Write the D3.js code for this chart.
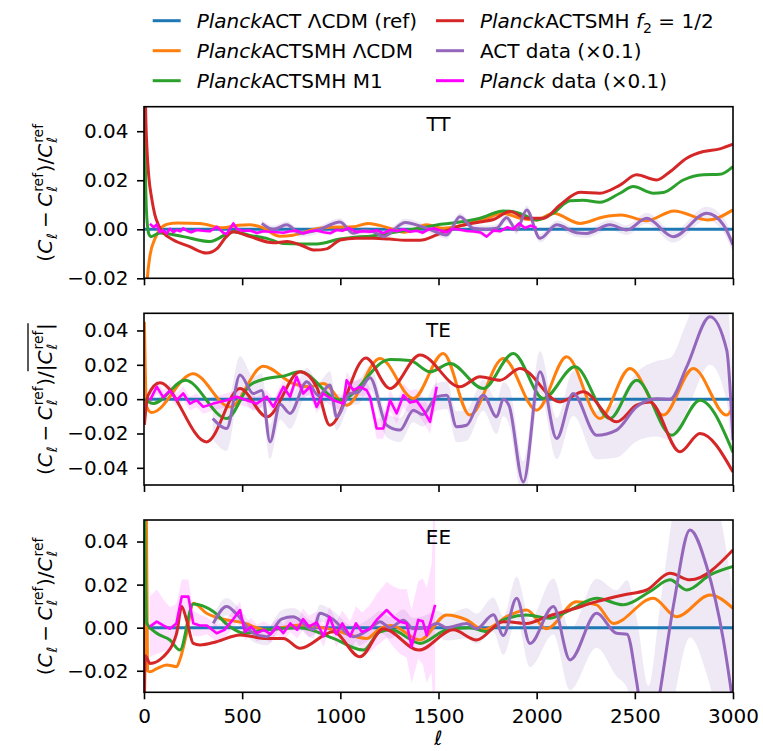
<!DOCTYPE html>
<html>
<head>
<meta charset="utf-8">
<script src="https://cdn.jsdelivr.net/npm/d3@7"></script>
<style>
  body { margin: 0; background: #fff; }
  svg { display: block; }
  text { font-family: "DejaVu Sans", sans-serif; fill: #000; white-space: pre; }
</style>
</head>
<body>
<svg id="fig" width="763" height="751"></svg>
<script>
// ---------------- data: fractional residuals vs multipole ell ----------------
const ellTicks = [0, 500, 1000, 1500, 2000, 2500, 3000];
const refLine = [[2, 0], [3000, 0]];

// TT
const ttSmhLcdm = [[2,-0.045],[15,-0.022],[31,-0.0105],[55,-0.004],[81,0.0],[120,0.0021],[170,0.0026],[285,0.0024],[400,0.0006],[480,0.0016],[540,0.0018],[600,0.0008],[690,-0.0028],[760,-0.0024],[880,0.0002],[960,0.0008],[1066,0.001],[1140,0.0024],[1200,0.0016],[1330,-0.0012],[1440,0.0018],[1524,0.0004],[1600,0.0012],[1660,0.0024],[1745,0.0045],[1830,0.0065],[1915,0.0045],[2000,0.0038],[2085,0.0065],[2221,0.0024],[2340,0.005],[2430,0.0058],[2560,0.0035],[2700,0.0075],[2870,0.0038],[3000,0.0079]];
const ttSmhM1 = [[2,0.06],[8,0.02],[15,0.004],[25,-0.002],[35,-0.003],[81,-0.0015],[200,-0.003],[336,-0.005],[455,-0.001],[540,-0.0025],[625,-0.0037],[710,-0.0058],[800,-0.006],[880,-0.006],[998,-0.004],[1100,-0.003],[1151,-0.0028],[1250,-0.0015],[1330,-0.0005],[1406,0.0004],[1491,0.0018],[1575,0.0026],[1650,0.0035],[1711,0.0045],[1830,0.0075],[1915,0.0065],[2000,0.0038],[2085,0.0066],[2170,0.0116],[2237,0.0118],[2322,0.011],[2424,0.0147],[2492,0.0174],[2594,0.0147],[2645,0.015],[2747,0.0201],[2849,0.0222],[2933,0.0224],[3000,0.0256]];
const ttSmhF2 = [[2,0.09],[8,0.05],[15,0.033],[25,0.021],[39,0.0127],[55,0.006],[75,0.0015],[100,-0.0015],[150,-0.0044],[230,-0.007],[319,-0.0097],[370,-0.008],[420,-0.003],[455,-0.001],[540,-0.003],[659,-0.0055],[730,-0.005],[800,-0.0065],[870,-0.0085],[930,-0.008],[1000,-0.0044],[1080,-0.0037],[1168,-0.0037],[1250,-0.004],[1330,-0.0045],[1406,-0.0045],[1491,-0.0023],[1592,0.001],[1711,0.003],[1780,0.004],[1864,0.0072],[1949,0.0045],[2034,0.0045],[2119,0.0099],[2221,0.0151],[2322,0.0147],[2424,0.018],[2509,0.0222],[2611,0.0201],[2679,0.0235],[2764,0.029],[2849,0.0317],[2933,0.0328],[3000,0.0347]];
// [ell, value, 1-sigma half width]
const ttAct = [[600,0.0024,0.0015],[659,0.0,0.0015],[727,0.0018,0.0015],[795,-0.0016,0.0015],[896,0.0,0.0015],[998,0.003,0.0015],[1066,-0.0016,0.0015],[1120,-0.0005,0.0015],[1168,-0.001,0.0015],[1219,-0.003,0.0015],[1330,0.0028,0.0015],[1440,0.0004,0.0015],[1542,-0.0023,0.0015],[1609,0.0051,0.0015],[1677,0.0004,0.0015],[1740,0.0,0.0015],[1796,0.0004,0.0016],[1847,0.0047,0.0017],[1898,-0.0003,0.0017],[1949,0.0079,0.0017],[2017,-0.0037,0.0017],[2102,0.0018,0.0018],[2203,-0.0014,0.0018],[2254,-0.0017,0.0018],[2373,0.0018,0.002],[2458,-0.0003,0.002],[2560,0.0045,0.0022],[2696,-0.003,0.0024],[2866,0.0065,0.0027],[2951,0.0018,0.003],[3000,-0.0064,0.003]];
const ttPlanck = [[30,0.0022,0.0008],[50,0.0008,0.0008],[65,0.002,0.0008],[80,-0.0012,0.0008],[98,-0.0004,0.0008],[115,-0.0018,0.0008],[132,0.0002,0.0008],[150,-0.0012,0.0008],[166,-0.0003,0.0008],[185,-0.0008,0.0008],[200,0.0004,0.0008],[220,-0.0006,0.0008],[240,-0.0012,0.0008],[268,-0.0003,0.0008],[302,-0.0006,0.0008],[336,-0.0008,0.0008],[370,0.001,0.0008],[404,-0.0014,0.0008],[421,-0.002,0.0008],[440,0.0005,0.0008],[455,0.0024,0.0008],[472,0.0002,0.0008],[500,-0.0006,0.0008],[540,-0.0005,0.0008],[575,-0.0015,0.0008],[608,-0.0008,0.0008],[640,-0.001,0.0008],[680,-0.0012,0.0008],[710,-0.0014,0.0008],[745,-0.0008,0.0008],[780,-0.0006,0.0008],[810,-0.0017,0.0008],[845,-0.0008,0.0008],[880,-0.0005,0.0008],[915,-0.0012,0.0008],[950,-0.0016,0.0008],[980,-0.0003,0.0008],[1010,-0.0006,0.0008],[1045,0.0005,0.0008],[1080,-0.0011,0.0008],[1115,-0.0008,0.0008],[1150,-0.001,0.0008],[1185,-0.0004,0.0008],[1220,-0.0016,0.0008],[1255,-0.0002,0.0008],[1290,-0.0008,0.0008],[1320,0.0,0.0008],[1355,-0.001,0.0008],[1390,-0.0006,0.0008],[1420,-0.0014,0.0008],[1445,-0.0002,0.0008],[1475,0.0004,0.0008],[1505,-0.0004,0.0008],[1540,-0.0012,0.0008],[1575,0.0002,0.0008],[1610,-0.0002,0.0008],[1645,-0.0007,0.0008],[1680,-0.0009,0.0008],[1715,-0.0013,0.0008],[1745,-0.003,0.0008],[1780,-0.0005,0.0008],[1815,-0.0008,0.0008],[1850,0.0008,0.0008],[1880,0.0,0.0008],[1910,0.0024,0.0008],[1940,0.0005,0.0008],[1970,0.0015,0.0008],[2000,0.0005,0.0008]];

// TE
const teSmhLcdm = [[2,0.045],[6,0.02],[12,-0.004],[39,-0.0078],[250,0.0148],[438,-0.0045],[608,0.0192],[760,0.0091],[845,0.0072],[913,0.0091],[1032,-0.0035],[1202,0.0237],[1372,0.0004],[1524,0.0266],[1660,-0.0093],[1830,0.0237],[2000,-0.0064],[2153,0.0247],[2322,-0.0113],[2475,0.0179],[2645,-0.0093],[2798,0.0179],[2968,-0.0093],[3000,-0.0045]];
const teSmhM1 = [[2,0.0],[48,-0.0025],[210,0.011],[421,-0.0113],[540,0.0082],[625,0.012],[710,0.0134],[795,0.0159],[998,-0.0006],[1253,0.0231],[1355,0.0225],[1457,0.0159],[1559,0.0208],[1728,0.0062],[1881,0.0266],[2034,0.0004],[2195,0.0188],[2373,-0.0113],[2509,0.011],[2688,-0.021],[2832,-0.0006],[3000,-0.031]];
const teSmhF2 = [[2,-0.015],[20,0.002],[81,0.0095],[319,-0.0249],[489,0.0062],[625,-0.0103],[795,0.0159],[879,0.0072],[947,-0.0152],[1130,0.024],[1253,0.0062],[1406,0.0257],[1609,0.0072],[1711,0.013],[1813,0.011],[1915,0.0179],[2119,-0.0016],[2237,0.0043],[2407,-0.0132],[2509,-0.0035],[2577,-0.0016],[2730,-0.0307],[2832,-0.02],[3000,-0.0424]];
const teAct = [[350,-0.0113,0.012],[421,-0.0171,0.013],[489,0.014,0.011],[557,0.0033,0.01],[600,0.005,0.01],[642,-0.0249,0.01],[693,-0.003,0.009],[744,-0.0083,0.009],[829,0.0101,0.008],[890,0.002,0.008],[947,0.0082,0.008],[981,-0.0103,0.008],[1049,0.0033,0.007],[1090,0.004,0.007],[1151,0.0125,0.007],[1236,-0.0152,0.007],[1304,-0.018,0.007],[1372,-0.0064,0.007],[1420,-0.009,0.007],[1491,0.0014,0.008],[1542,0.0023,0.008],[1592,-0.0161,0.009],[1643,-0.0152,0.009],[1728,0.0023,0.009],[1796,-0.0103,0.01],[1830,0.0,0.01],[1860,-0.004,0.011],[1932,-0.0482,0.012],[2017,0.0159,0.012],[2102,-0.0229,0.012],[2186,0.0033,0.013],[2305,-0.021,0.014],[2407,-0.018,0.016],[2509,-0.0045,0.02],[2611,0.0002,0.022],[2680,0.0,0.024],[2764,0.0188,0.026],[2883,0.048,0.028],[2968,0.0286,0.03],[3000,-0.0239,0.03]];
const tePlanck = [[31,-0.0006,0.004],[65,0.0072,0.004],[98,0.001,0.004],[132,0.005,0.004],[166,-0.0006,0.004],[200,0.0033,0.004],[234,-0.0026,0.004],[268,-0.0006,0.004],[302,-0.0045,0.004],[353,-0.0026,0.004],[421,-0.0006,0.004],[472,0.0014,0.004],[523,-0.0006,0.004],[574,-0.0026,0.004],[625,0.0014,0.004],[659,-0.0045,0.004],[710,0.0072,0.004],[744,0.0014,0.004],[777,0.013,0.004],[811,0.0033,0.004],[845,0.0072,0.004],[879,-0.0045,0.004],[913,0.0033,0.004],[964,-0.0006,0.004],[1015,-0.0026,0.005],[1032,0.011,0.005],[1066,0.0052,0.005],[1100,0.0072,0.005],[1134,0.0052,0.005],[1151,0.0014,0.005],[1185,-0.0171,0.006],[1219,-0.0171,0.006],[1253,-0.0006,0.006],[1287,-0.0083,0.006],[1321,0.0023,0.007],[1355,-0.002,0.007],[1389,-0.001,0.007],[1423,-0.0064,0.007],[1457,-0.0132,0.007],[1491,0.0072,0.007]];

// EE
const eeSmhLcdm = [[2,-0.06],[9,0.09],[18,-0.02],[30,-0.0205],[65,-0.019],[115,-0.0173],[166,-0.0181],[183,-0.0148],[217,-0.0026],[251,0.0113],[319,0.0067],[421,0.0036],[489,0.0026],[625,-0.001],[795,0.0013],[964,-0.001],[1134,-0.005],[1200,-0.0005],[1260,0.001],[1406,-0.0057],[1542,0.0059],[1643,0.0036],[1728,-0.001],[1864,0.0059],[1949,0.0082],[2050,-0.0005],[2203,0.012],[2305,0.0106],[2390,0.002],[2594,0.0137],[2713,0.0051],[2883,0.0152],[3000,0.009]];
const eeSmhM1 = [[2,0.06],[8,0.02],[14,0.002],[65,-0.0026],[132,-0.0057],[183,-0.0104],[251,0.011],[353,0.0075],[430,0.001],[510,-0.0025],[625,-0.001],[795,0.0],[964,-0.005],[1117,-0.0104],[1200,-0.002],[1260,-0.001],[1406,-0.0073],[1542,-0.001],[1660,0.0],[1745,-0.0018],[1830,0.0036],[1949,0.0059],[2068,0.0044],[2170,0.0082],[2305,0.0137],[2441,0.0106],[2577,0.0168],[2679,0.0222],[2764,0.0175],[2883,0.0245],[3000,0.0284]];
const eeSmhF2 = [[2,-0.035],[6,-0.013],[31,-0.0166],[98,-0.0135],[166,-0.0026],[192,0.0098],[217,0.0036],[251,-0.0073],[285,-0.008],[370,-0.0065],[489,-0.0034],[625,-0.005],[710,-0.005],[795,-0.0096],[964,-0.0019],[1100,-0.0135],[1220,-0.0005],[1400,-0.0104],[1575,-0.001],[1694,-0.0057],[1830,0.0028],[1949,0.002],[2051,0.0051],[2170,0.0082],[2305,0.0121],[2441,0.0152],[2560,0.0175],[2679,0.0253],[2781,0.0222],[3000,0.0361]];
const eeAct = [[353,0.002,0.004],[421,0.0098,0.004],[470,0.0065,0.004],[557,-0.0026,0.004],[625,-0.0042,0.004],[700,0.004,0.004],[760,0.0051,0.004],[862,-0.001,0.004],[896,0.0067,0.004],[960,0.004,0.004],[1066,-0.0042,0.005],[1151,-0.0005,0.005],[1202,0.0028,0.005],[1253,0.0,0.005],[1321,0.0035,0.005],[1372,-0.0005,0.005],[1440,0.0,0.006],[1491,0.002,0.006],[1542,0.0,0.006],[1643,0.002,0.007],[1694,-0.0005,0.007],[1779,0.006,0.008],[1830,-0.0036,0.009],[1898,0.0137,0.01],[1966,-0.0073,0.011],[2085,0.0098,0.013],[2170,-0.015,0.014],[2305,0.0067,0.016],[2407,-0.0026,0.02],[2460,-0.003,0.025],[2509,-0.025,0.03],[2570,-0.062,0.035],[2628,-0.03,0.04],[2700,0.012,0.045],[2781,0.0454,0.05],[2866,0.0284,0.05],[2951,-0.0057,0.05],[3000,-0.035,0.05]];
const eePlanck = [[30,0.0005,0.014],[65,0.0028,0.015],[100,0.001,0.012],[132,-0.0005,0.01],[165,0.002,0.009],[192,0.0144,0.008],[226,0.0144,0.008],[251,0.002,0.006],[285,0.001,0.005],[320,0.001,0.004],[370,-0.0026,0.004],[410,-0.001,0.004],[455,0.004,0.004],[489,0.0082,0.004],[514,-0.002,0.004],[545,0.0005,0.004],[575,-0.0025,0.004],[610,-0.001,0.004],[645,-0.003,0.004],[680,0.0005,0.004],[710,-0.0025,0.004],[745,0.002,0.004],[780,-0.001,0.004],[810,0.004,0.005],[840,0.0005,0.005],[880,0.0025,0.005],[915,-0.004,0.005],[945,0.005,0.005],[980,-0.003,0.006],[1010,0.002,0.006],[1050,-0.004,0.007],[1080,0.002,0.008],[1110,-0.002,0.009],[1151,-0.0005,0.011],[1185,0.0036,0.012],[1236,0.0082,0.013],[1270,0.0051,0.014],[1304,0.0028,0.015],[1338,0.002,0.016],[1363,-0.0088,0.017],[1397,0.0036,0.018],[1420,0.003,0.02],[1440,-0.0036,0.022],[1465,0.0044,0.025],[1483,0.0106,0.07]];

// ---------------- styling ----------------
const C = {
  ref: "#1f77b4", lcdm: "#ff7f0e", m1: "#2ca02c", f2: "#d62728",
  act: "#9467bd", planck: "#ff00ff"
};

const svg = d3.select("#fig");
const x = d3.scaleLinear().domain([0, 3000]).range([144, 733]);

const panels = [
  { name: "TT", top: 106.7, bottom: 278.3, domain: [-0.02, 0.05], ticks: [-0.02, 0, 0.02, 0.04],
    lcdm: ttSmhLcdm, m1: ttSmhM1, f2: ttSmhF2, act: ttAct, planck: ttPlanck, ylab: "rel" },
  { name: "TE", top: 313.3, bottom: 485, domain: [-0.05, 0.05], ticks: [-0.04, -0.02, 0, 0.02, 0.04],
    lcdm: teSmhLcdm, m1: teSmhM1, f2: teSmhF2, act: teAct, planck: tePlanck, ylab: "abs" },
  { name: "EE", top: 520, bottom: 692.3, domain: [-0.03, 0.05], ticks: [-0.02, 0, 0.02, 0.04],
    lcdm: eeSmhLcdm, m1: eeSmhM1, f2: eeSmhF2, act: eeAct, planck: eePlanck, ylab: "rel" }
];

// rotated y label built from mathtext-like pieces
function mathLabel(parent, tokens, bx, cy) {
  const g = parent.append("g").attr("transform", `translate(${bx},${cy}) rotate(-90)`);
  const inner = g.append("g");
  let cur = 0, ovStart = 0;
  const ov = [];
  tokens.forEach(tk => {
    if (tk.ov === "start") { ovStart = cur; return; }
    if (tk.ov === "end") { ov.push([ovStart, cur]); return; }
    if (tk.gap) { cur += tk.gap; return; }
    if (tk.s !== undefined) {
      const t = inner.append("text").attr("x", cur).attr("y", 0)
        .attr("font-size", 20).attr("font-style", tk.i ? "italic" : "normal").text(tk.s);
      cur += t.node().getComputedTextLength();
    } else {
      let w = 0;
      if (tk.sub) {
        const t = inner.append("text").attr("x", cur + 1).attr("y", 5).attr("font-size", 14).text(tk.sub);
        w = Math.max(w, t.node().getComputedTextLength() + 1.5);
      }
      if (tk.sup) {
        const t = inner.append("text").attr("x", cur + 1).attr("y", -9).attr("font-size", 14).text(tk.sup);
        w = Math.max(w, t.node().getComputedTextLength() + 1.5);
      }
      cur += w;
    }
  });
  ov.forEach(([a, b]) => inner.append("line").attr("x1", a).attr("x2", b)
    .attr("y1", -24).attr("y2", -24).attr("stroke", "#000").attr("stroke-width", 1.3));
  inner.attr("transform", `translate(${-cur / 2},0)`);
}

const relTokens = [
  { s: "(" }, { s: "C", i: true }, { sub: "ℓ" }, { gap: 4.5 }, { s: "−" }, { gap: 4.5 }, { s: "C", i: true }, { sub: "ℓ", sup: "ref" },
  { s: ")/" }, { s: "C", i: true }, { sub: "ℓ", sup: "ref" }
];
const absTokens = [
  { s: "(" }, { s: "C", i: true }, { sub: "ℓ" }, { gap: 4.5 }, { s: "−" }, { gap: 4.5 }, { s: "C", i: true }, { sub: "ℓ", sup: "ref" },
  { s: ")/" }, { ov: "start" }, { s: "|" }, { s: "C", i: true }, { sub: "ℓ", sup: "ref" }, { s: "|" }, { ov: "end" }
];

panels.forEach((p, idx) => {
  const y = d3.scaleLinear().domain(p.domain).range([p.bottom, p.top]);
  const g = svg.append("g");
  const clipId = "clip" + idx;
  svg.append("clipPath").attr("id", clipId).append("rect")
    .attr("x", x(0)).attr("y", p.top).attr("width", x(3000) - x(0)).attr("height", p.bottom - p.top);

  const plot = g.append("g").attr("clip-path", `url(#${clipId})`);
  const smooth = d3.line().x(d => x(d[0])).y(d => y(d[1])).curve(d3.curveMonotoneX);
  const jagged = d3.line().x(d => x(d[0])).y(d => y(d[1]));
  const bandSmooth = d3.area().x(d => x(d[0])).y0(d => y(d[1] - d[2])).y1(d => y(d[1] + d[2])).curve(d3.curveMonotoneX);
  const bandLin = d3.area().x(d => x(d[0])).y0(d => y(d[1] - d[2])).y1(d => y(d[1] + d[2]));

  // uncertainty bands
  plot.append("path").datum(p.act).attr("d", bandSmooth).attr("fill", C.act).attr("fill-opacity", 0.15);
  plot.append("path").datum(p.planck).attr("d", bandLin).attr("fill", C.planck).attr("fill-opacity", 0.12);

  // reference and model curves
  plot.append("path").datum(refLine).attr("d", jagged).attr("fill", "none").attr("stroke", C.ref).attr("stroke-width", 3);
  [["lcdm", C.lcdm], ["m1", C.m1], ["f2", C.f2]].forEach(([k, col]) => {
    plot.append("path").datum(p[k]).attr("d", smooth).attr("fill", "none")
      .attr("stroke", col).attr("stroke-width", 3).attr("stroke-linejoin", "round");
  });
  // data curves (x0.1)
  plot.append("path").datum(p.act).attr("d", smooth).attr("fill", "none")
    .attr("stroke", C.act).attr("stroke-width", 3).attr("stroke-linejoin", "round");
  plot.append("path").datum(p.planck).attr("d", jagged).attr("fill", "none")
    .attr("stroke", C.planck).attr("stroke-width", 2.6).attr("stroke-linejoin", "round");

  // frame
  g.append("rect").attr("x", x(0)).attr("y", p.top).attr("width", x(3000) - x(0)).attr("height", p.bottom - p.top)
    .attr("fill", "none").attr("stroke", "#000").attr("stroke-width", 1.6);

  // axes
  const yAxis = g.append("g").attr("transform", `translate(${x(0)},0)`)
    .call(d3.axisLeft(y).tickValues(p.ticks).tickSize(7).tickPadding(8.5).tickFormat(d3.format(".2f")));
  const xAxis = g.append("g").attr("transform", `translate(0,${p.bottom})`)
    .call(d3.axisBottom(x).tickValues(ellTicks).tickSize(7).tickPadding(9.5).tickFormat(idx === 2 ? d3.format("d") : () => ""));
  [yAxis, xAxis].forEach(a => {
    a.select(".domain").remove();
    a.selectAll(".tick line").attr("stroke", "#000").attr("stroke-width", 1.6);
    a.selectAll(".tick text").attr("font-size", 20).attr("font-family", "DejaVu Sans").attr("fill", "#000");
  });

  // panel title
  g.append("text").attr("x", x(1500)).attr("y", p.top + 0.1 * (p.bottom - p.top))
    .attr("text-anchor", "middle").attr("dominant-baseline", "central").attr("font-size", 20).text(p.name);

  // y label
  mathLabel(svg, p.ylab === "abs" ? absTokens : relTokens, 52, (p.top + p.bottom) / 2);
});

// x label
svg.append("text").attr("x", x(1500)).attr("y", 745).attr("text-anchor", "middle")
  .attr("font-size", 20).attr("font-style", "italic").text("ℓ");

// ---------------- legend ----------------
const legendItems = [
  { col: 0, row: 0, color: C.ref,    parts: [{ t: "Planck", i: true }, { t: "ACT ΛCDM (ref)" }] },
  { col: 0, row: 1, color: C.lcdm,   parts: [{ t: "Planck", i: true }, { t: "ACTSMH ΛCDM" }] },
  { col: 0, row: 2, color: C.m1,     parts: [{ t: "Planck", i: true }, { t: "ACTSMH M1" }] },
  { col: 1, row: 0, color: C.f2,     parts: [{ t: "Planck", i: true }, { t: "ACTSMH " }, { t: "f", i: true }, { t: "2", sub: true }, { t: " = 1/2" }] },
  { col: 1, row: 1, color: C.act,    parts: [{ t: "ACT data (×0.1)" }] },
  { col: 1, row: 2, color: C.planck, parts: [{ t: "Planck", i: true }, { t: " data (×0.1)" }] }
];
const colX = [152.7, 436];
const rowY = [20.7, 50.7, 80.7];
const leg = svg.append("g");
legendItems.forEach(it => {
  const lx = colX[it.col], ly = rowY[it.row];
  leg.append("line").attr("x1", lx).attr("x2", lx + 28).attr("y1", ly).attr("y2", ly)
    .attr("stroke", it.color).attr("stroke-width", 3);
  const t = leg.append("text").attr("x", lx + 44).attr("y", ly + 7).attr("font-size", 20);
  let shifted = false;
  it.parts.forEach(pt => {
    const ts = t.append("tspan").text(pt.t);
    if (pt.i) ts.attr("font-style", "italic");
    if (pt.sub) { ts.attr("font-size", 14).attr("dy", 5); shifted = true; }
    else if (shifted) { ts.attr("dy", -5); shifted = false; }
  });
});
</script>
</body>
</html>
